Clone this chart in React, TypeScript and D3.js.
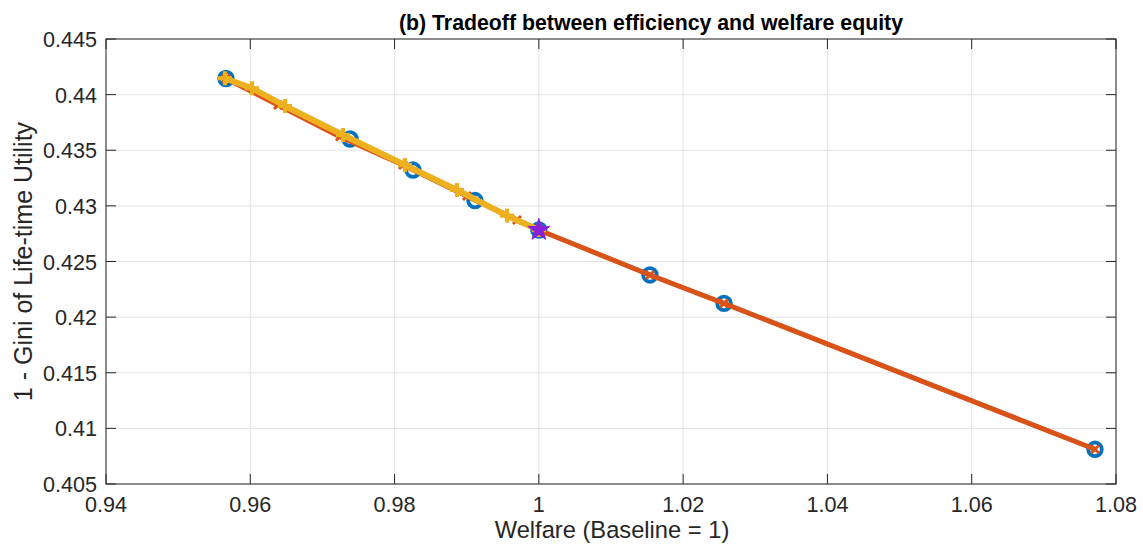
import React from "react";
import * as d3 from "d3";

// Welfare (x) vs 1 - Gini (y) for each policy path
const blueWelfare = [0.95663, 0.97382, 0.98255, 0.99115, 1.0, 1.0154, 1.02566, 1.07709];
const blueEquity = [0.44145, 0.43601, 0.43322, 0.43048, 0.42783, 0.42379, 0.42124, 0.40812];

const orangeWelfare = [0.95663, 0.96384, 0.97244, 0.98117, 0.99004, 0.99697, 1.0, 1.0154, 1.02566, 1.07709];
const orangeEquity = [0.44145, 0.43907, 0.43622, 0.43367, 0.43089, 0.42873, 0.42783, 0.42379, 0.42124, 0.40812];

const yellowWelfare = [0.95649, 0.96024, 0.96481, 0.97285, 0.98144, 0.98865, 0.99558, 1.0];
const yellowEquity = [0.44147, 0.44057, 0.43898, 0.43637, 0.43367, 0.43143, 0.42912, 0.42783];

const baselineWelfare = [1.0];
const baselineEquity = [0.42783];

const xTicks = [0.94, 0.96, 0.98, 1.0, 1.02, 1.04, 1.06, 1.08];
const yTicks = [0.405, 0.41, 0.415, 0.42, 0.425, 0.43, 0.435, 0.44, 0.445];

const W = 1143;
const H = 551;
const M = { left: 106, right: 1116, top: 39, bottom: 484 };
const FONT = "'Liberation Sans', Arial, Helvetica, sans-serif";
const AXIS = "#262626";

export default function App() {
  const x = d3.scaleLinear().domain([0.94, 1.08]).range([M.left, M.right]);
  const y = d3.scaleLinear().domain([0.405, 0.445]).range([M.bottom, M.top]);

  const pts = (xs: number[], ys: number[]) => xs.map((v, i) => [x(v), y(ys[i])] as [number, number]);
  const line = d3.line<[number, number]>();

  const blue = pts(blueWelfare, blueEquity);
  const orange = pts(orangeWelfare, orangeEquity);
  const yellow = pts(yellowWelfare, yellowEquity);
  const star = pts(baselineWelfare, baselineEquity);
  const starPath = d3.symbol().type(d3.symbolStar).size(150)();

  const fmt = (v: number) => String(+v.toFixed(3));

  return (
    <div style={{ position: "absolute", left: 0, top: 0 }}>
      <svg width={W} height={H} style={{ display: "block", background: "#fff" }}>
        {/* grid */}
        {xTicks.map((t) => (
          <line key={"gx" + t} x1={x(t)} x2={x(t)} y1={M.top} y2={M.bottom} stroke="#e3e3e3" strokeWidth={1} />
        ))}
        {yTicks.map((t) => (
          <line key={"gy" + t} x1={M.left} x2={M.right} y1={y(t)} y2={y(t)} stroke="#e3e3e3" strokeWidth={1} />
        ))}

        {/* series 1 */}
        <path d={line(blue) || ""} fill="none" stroke="#0072BD" strokeWidth={4} strokeLinejoin="round" />
        {blue.map(([px, py], i) => (
          <circle key={"b" + i} cx={px} cy={py} r={6.8} fill="none" stroke="#0072BD" strokeWidth={3.8} />
        ))}

        {/* series 2 */}
        <path d={line(orange) || ""} fill="none" stroke="#D95319" strokeWidth={5} strokeLinejoin="round" />
        {orange.map(([px, py], i) => (
          <g key={"o" + i} stroke="#D95319" strokeWidth={3}>
            <line x1={px - 4} y1={py - 4} x2={px + 4} y2={py + 4} />
            <line x1={px - 4} y1={py + 4} x2={px + 4} y2={py - 4} />
          </g>
        ))}

        {/* series 3 */}
        <path d={line(yellow) || ""} fill="none" stroke="#EDB120" strokeWidth={6} strokeLinejoin="round" />
        {yellow.map(([px, py], i) => (
          <g key={"y" + i} stroke="#EDB120" strokeWidth={4.2}>
            <line x1={px - 7} y1={py} x2={px + 7} y2={py} />
            <line x1={px} y1={py - 7} x2={px} y2={py + 7} />
          </g>
        ))}

        {/* baseline */}
        {star.map(([px, py], i) => (
          <path key={"s" + i} d={starPath || ""} transform={`translate(${px},${py})`} fill="#8A1FD9" stroke="#8A1FD9" strokeWidth={1} />
        ))}

        {/* box */}
        <rect x={M.left} y={M.top} width={M.right - M.left} height={M.bottom - M.top} fill="none" stroke={AXIS} strokeWidth={1} />

        {/* ticks */}
        {xTicks.map((t) => (
          <g key={"tx" + t} stroke={AXIS} strokeWidth={1}>
            <line x1={x(t)} x2={x(t)} y1={M.bottom} y2={M.bottom - 10} />
            <line x1={x(t)} x2={x(t)} y1={M.top} y2={M.top + 10} />
          </g>
        ))}
        {yTicks.map((t) => (
          <g key={"ty" + t} stroke={AXIS} strokeWidth={1}>
            <line x1={M.left} x2={M.left + 10} y1={y(t)} y2={y(t)} />
            <line x1={M.right} x2={M.right - 10} y1={y(t)} y2={y(t)} />
          </g>
        ))}

        {/* tick labels */}
        {xTicks.map((t) => (
          <text key={"lx" + t} x={x(t)} y={512} textAnchor="middle" fontFamily={FONT} fontSize={21.6} fill={AXIS}>
            {fmt(t)}
          </text>
        ))}
        {yTicks.map((t) => (
          <text key={"ly" + t} x={97} y={y(t) + 8} textAnchor="end" fontFamily={FONT} fontSize={21.6} fill={AXIS}>
            {fmt(t)}
          </text>
        ))}

        {/* labels */}
        <text x={612} y={538} textAnchor="middle" fontFamily={FONT} fontSize={23.7} fill={AXIS}>
          Welfare (Baseline = 1)
        </text>
        <text
          transform={`translate(32,${(M.top + M.bottom) / 2}) rotate(-90)`}
          textAnchor="middle"
          fontFamily={FONT}
          fontSize={25}
          fill={AXIS}
        >
          1 - Gini of Life-time Utility
        </text>
        <text x={651} y={30} textAnchor="middle" fontFamily={FONT} fontSize={21.3} fontWeight="bold" fill="#000">
          (b) Tradeoff between efficiency and welfare equity
        </text>
      </svg>
    </div>
  );
}
